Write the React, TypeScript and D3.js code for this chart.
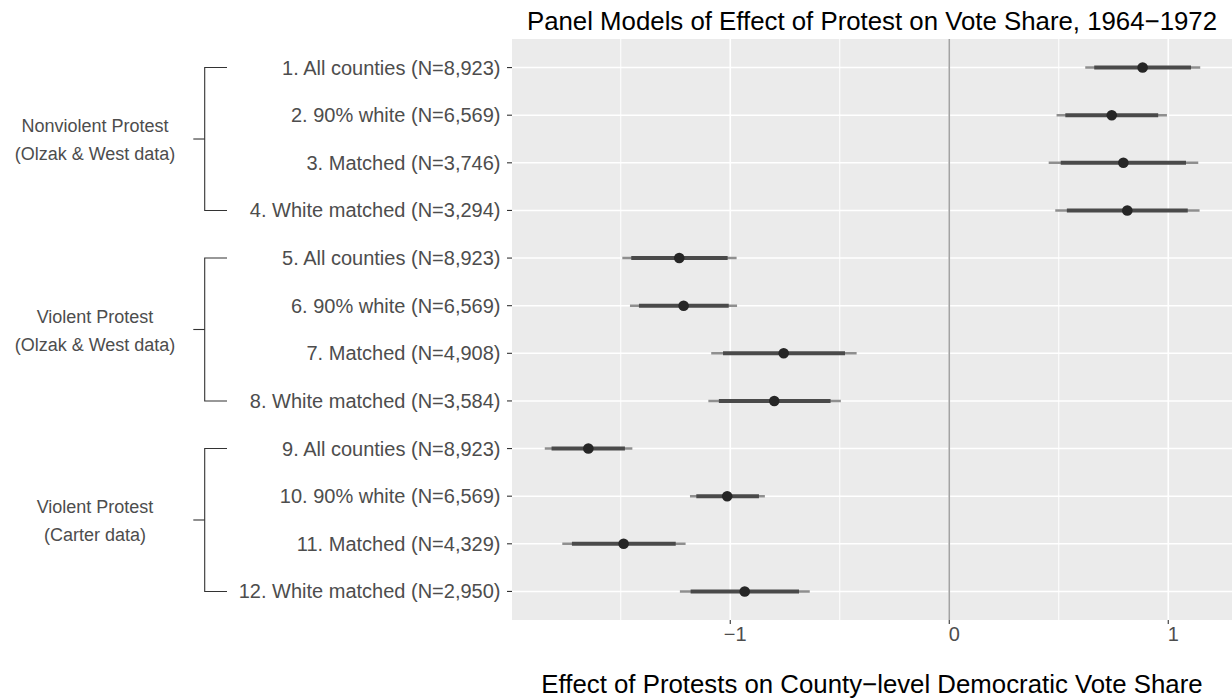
import React from "react";
import * as d3 from "d3";

const labels = [
  "1. All counties (N=8,923)",
  "2. 90% white (N=6,569)",
  "3. Matched (N=3,746)",
  "4. White matched (N=3,294)",
  "5. All counties (N=8,923)",
  "6. 90% white (N=6,569)",
  "7. Matched (N=4,908)",
  "8. White matched (N=3,584)",
  "9. All counties (N=8,923)",
  "10. 90% white (N=6,569)",
  "11. Matched (N=4,329)",
  "12. White matched (N=2,950)",
];
const estimates = [0.883, 0.742, 0.795, 0.813, -1.233, -1.213, -0.756, -0.799, -1.648, -1.014, -1.487, -0.934];
const innerLow = [0.662, 0.53, 0.509, 0.537, -1.452, -1.417, -1.033, -1.052, -1.816, -1.155, -1.723, -1.181];
const innerHigh = [1.104, 0.954, 1.081, 1.089, -1.012, -1.007, -0.476, -0.542, -1.481, -0.869, -1.249, -0.686];
const outerLow = [0.621, 0.49, 0.454, 0.484, -1.493, -1.458, -1.087, -1.1, -1.847, -1.184, -1.767, -1.23];
const outerHigh = [1.146, 0.994, 1.137, 1.143, -0.971, -0.969, -0.423, -0.495, -1.447, -0.842, -1.204, -0.637];

const groupLines = [
  ["Nonviolent Protest", "(Olzak & West data)"],
  ["Violent Protest", "(Olzak & West data)"],
  ["Violent Protest", "(Carter data)"],
];
const groupStart = [0, 4, 8];
const groupEnd = [3, 7, 11];

const majorTicks = [-1, 0, 1];
const minorTicks = [-1.5, -0.5, 0.5];
const tickLabels = ["\u22121", "0", "1"];

const title = "Panel Models of Effect of Protest on Vote Share, 1964\u22121972";
const xTitle = "Effect of Protests on County\u2212level Democratic Vote Share";

const W = 1232;
const H = 700;
const panel = { left: 512, right: 1233, top: 39, bottom: 620 };
const FONT = "'Liberation Sans', Arial, Helvetica, sans-serif";

export default function App() {
  const lo = d3.min(outerLow) as number;
  const hi = d3.max(outerHigh) as number;
  const pad = (hi - lo) * 0.05;
  const x = d3.scaleLinear().domain([lo - pad, hi + pad]).range([panel.left, panel.right]);
  const y = d3
    .scalePoint<string>()
    .domain(labels)
    .range([panel.top, panel.bottom])
    .padding(0.6);

  const rowY = (i: number) => y(labels[i]) as number;
  const cx = (panel.left + Math.min(panel.right, W)) / 2;

  return (
    <svg
      width={W}
      height={H}
      style={{ position: "absolute", left: 0, top: 0, display: "block", background: "#fff" }}
      fontFamily={FONT}
    >
      <rect
        x={panel.left}
        y={panel.top}
        width={panel.right - panel.left}
        height={panel.bottom - panel.top}
        fill="#ebebeb"
      />
      {minorTicks.map((t) => (
        <line key={"mn" + t} x1={x(t)} x2={x(t)} y1={panel.top} y2={panel.bottom} stroke="#fff" strokeWidth={1} />
      ))}
      {majorTicks.map((t) => (
        <line key={"mj" + t} x1={x(t)} x2={x(t)} y1={panel.top} y2={panel.bottom} stroke="#fff" strokeWidth={1.6} />
      ))}
      {labels.map((l, i) => (
        <line key={"hg" + i} x1={panel.left} x2={panel.right} y1={rowY(i)} y2={rowY(i)} stroke="#fff" strokeWidth={1.6} />
      ))}
      <line x1={x(0)} x2={x(0)} y1={panel.top} y2={panel.bottom} stroke="#a3a3a3" strokeWidth={1.6} />

      {labels.map((l, i) => (
        <g key={"pt" + i}>
          <line x1={x(outerLow[i])} x2={x(outerHigh[i])} y1={rowY(i)} y2={rowY(i)} stroke="#8f8f8f" strokeWidth={2.6} />
          <line x1={x(innerLow[i])} x2={x(innerHigh[i])} y1={rowY(i)} y2={rowY(i)} stroke="#4a4a4a" strokeWidth={4} />
          <circle cx={x(estimates[i])} cy={rowY(i)} r={5.3} fill="#262626" />
        </g>
      ))}

      {/* y axis */}
      {labels.map((l, i) => (
        <g key={"yl" + i}>
          <line x1={panel.left - 5} x2={panel.left} y1={rowY(i)} y2={rowY(i)} stroke="#333" strokeWidth={1.1} />
          <text x={500.5} y={rowY(i)} dy="0.35em" textAnchor="end" fontSize={20} fill="#4d4d4d">
            {l}
          </text>
        </g>
      ))}

      {/* x axis */}
      {majorTicks.map((t, i) => (
        <g key={"xt" + t}>
          <line x1={x(t)} x2={x(t)} y1={panel.bottom} y2={panel.bottom + 4} stroke="#333" strokeWidth={1.1} />
          <text x={x(t)} dx={5} y={641} textAnchor="middle" fontSize={20} fill="#4d4d4d">
            {tickLabels[i]}
          </text>
        </g>
      ))}

      {/* brackets */}
      {groupLines.map((lines, g) => {
        const y1 = rowY(groupStart[g]);
        const y2 = rowY(groupEnd[g]);
        const ym = (y1 + y2) / 2;
        const bx = 204.7;
        return (
          <g key={"br" + g}>
            <path
              d={`M227,${y1}H${bx}V${y2}H227`}
              fill="none"
              stroke="#333"
              strokeWidth={1.1}
            />
            <line x1={193.3} x2={bx} y1={ym} y2={ym} stroke="#333" strokeWidth={1.1} />
            <text x={95} y={ym - 7} textAnchor="middle" fontSize={18} fill="#4d4d4d">
              {lines[0]}
            </text>
            <text x={95} y={ym + 21} textAnchor="middle" fontSize={18} fill="#4d4d4d">
              {lines[1]}
            </text>
          </g>
        );
      })}

      <text x={cx} y={30} textAnchor="middle" fontSize={25.8} fill="#000">
        {title}
      </text>
      <text x={cx} y={693} textAnchor="middle" fontSize={25.8} fill="#000">
        {xTitle}
      </text>
    </svg>
  );
}
